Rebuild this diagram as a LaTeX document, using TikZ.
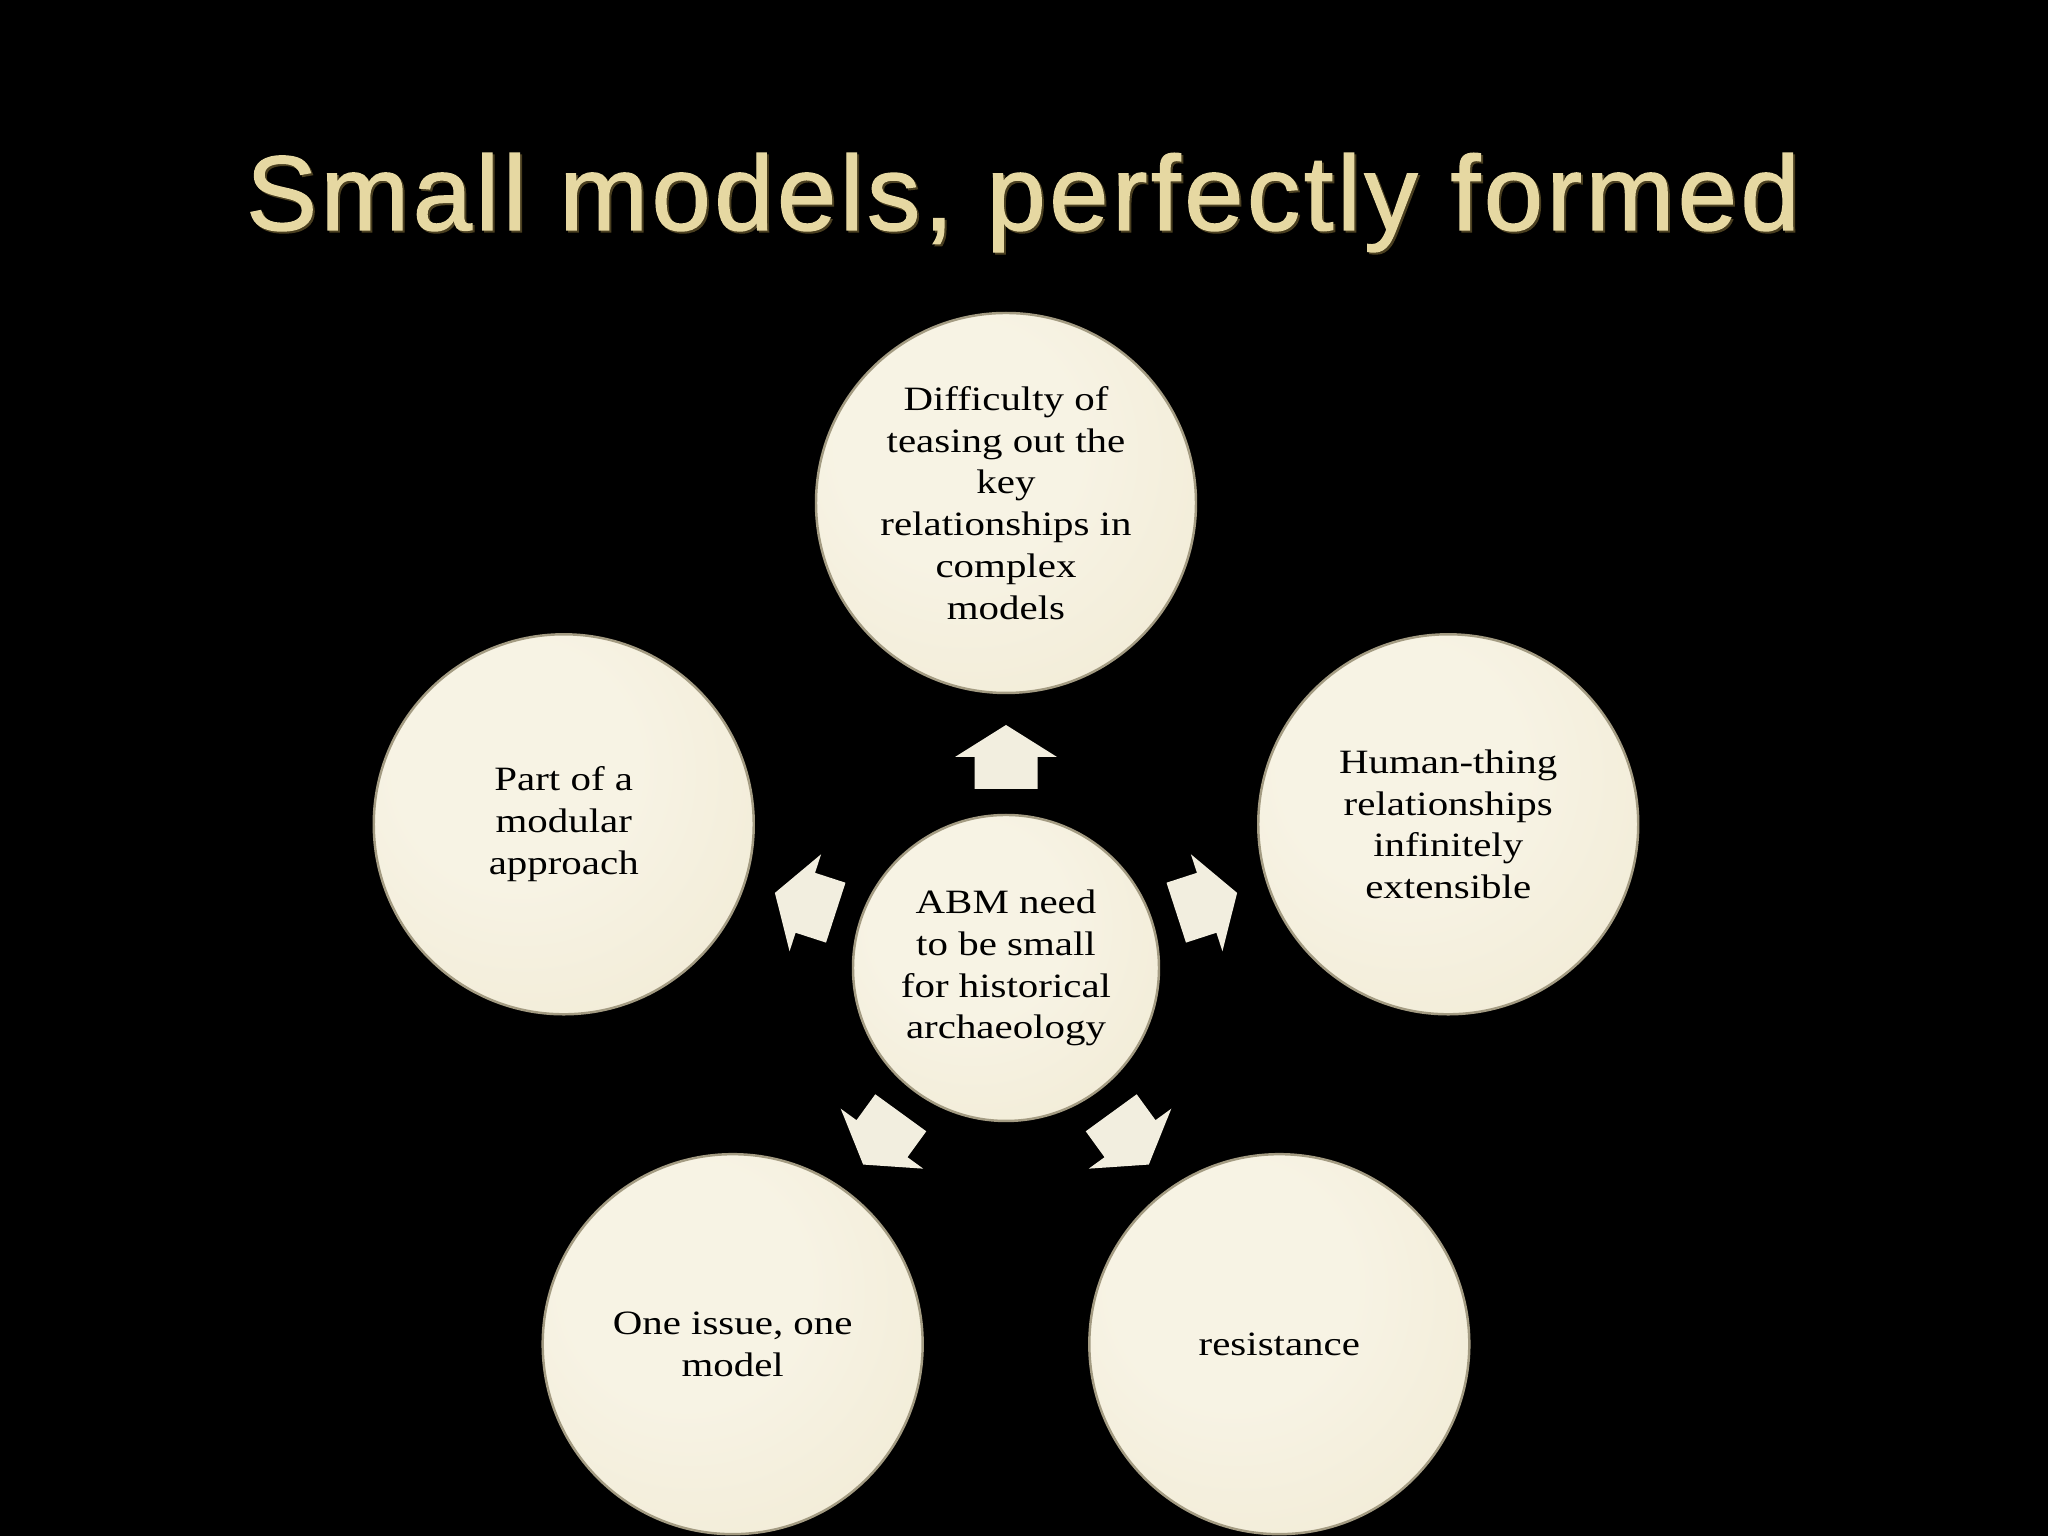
\documentclass[tikz,border=0pt]{standalone}
\usepackage{fontspec}
\setmainfont{Liberation Serif}[FakeStretch=1.2]
\newfontfamily\titlefont{Liberation Sans}[FakeBold=1.3, LetterSpace=3.5]
\usetikzlibrary{calc}
\definecolor{cA}{HTML}{F7F3E4}
\definecolor{cB}{HTML}{EFE8D0}
\definecolor{cC}{HTML}{E2D8B8}
\definecolor{rimcol}{HTML}{A39B82}
\definecolor{arrowcol}{HTML}{F2EEDF}
\definecolor{titlecol}{HTML}{E6D8A2}
\definecolor{titleshadow}{HTML}{4A3F20}
\pgfdeclareradialshading{creamball}{\pgfpoint{-8bp}{10bp}}{color(0bp)=(cA); color(16bp)=(cA); color(46bp)=(cB); color(60bp)=(cC); color(72bp)=(cC)}
\tikzset{
  bubble/.style={circle, shading=creamball, draw=rimcol, line width=0.7pt, align=center,
    inner sep=0pt, text=black, font=\fontsize{9.7pt}{11.9pt}\selectfont},
  outer/.style={bubble, minimum size=3.80cm},
  inner/.style={bubble, minimum size=3.06cm},
  blockarrow/.style={fill=arrowcol, draw=none},
  titlestyle/.style={anchor=base, font=\titlefont\fontsize{30.2pt}{36pt}\selectfont}
}
\begin{document}
\begin{tikzpicture}
\fill[black] (0,0) rectangle (20.48,15.36);
\useasboundingbox (0,0) rectangle (20.48,15.36);

% title
\node[titlestyle, text=titleshadow] at (10.25,13.04) {Small models, perfectly formed};
\node[titlestyle, text=titlecol] (title) at (10.23,13.06) {Small models, perfectly formed};

\coordinate (c0) at (10.06,5.68);

% arrows
\foreach \ang/\nm in {90/au, 18/ar, 162/al, -54/abr, 234/abl}{
  \begin{scope}[shift={(c0)}, rotate=\ang]
    \fill[blockarrow] (1.79,-0.315) -- (2.11,-0.315) -- (2.11,-0.51) -- (2.43,0)
      -- (2.11,0.51) -- (2.11,0.315) -- (1.79,0.315) -- cycle;
    \coordinate (\nm) at (2.43,0);
  \end{scope}
}

% center
\node[inner] (center) at (c0) {ABM need\\to be small\\for historical\\archaeology};

% outer circles
\node[outer] (top) at ($(c0)+(90:4.65)$) {Difficulty of\\teasing out the\\key\\relationships in\\complex\\models};
\node[outer] (right) at ($(c0)+(18:4.65)$) {Human-thing\\relationships\\infinitely\\extensible};
\node[outer] (left) at ($(c0)+(162:4.65)$) {Part of a\\modular\\approach};
\node[outer] (botleft) at ($(c0)+(234:4.65)$) {One issue, one\\model};
\node[outer] (botright) at ($(c0)+(-54:4.65)$) {resistance};
\end{tikzpicture}
\end{document}
